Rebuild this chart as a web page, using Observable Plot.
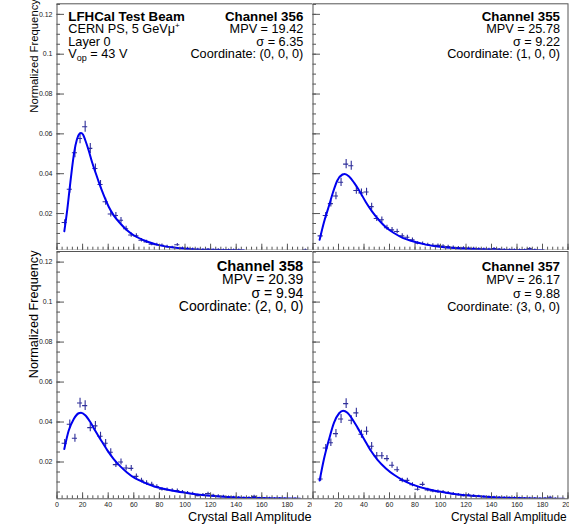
<!DOCTYPE html>
<html><head><meta charset="utf-8">
<script src="https://cdn.jsdelivr.net/npm/d3@7"></script>
<script src="https://cdn.jsdelivr.net/npm/@observablehq/plot@0.6"></script>
<style>
html,body{margin:0;padding:0;background:#fff;}
#wrap{position:relative;width:582px;height:525px;overflow:hidden;background:#fff;}
#wrap > svg{position:absolute;}
</style></head><body><div id="wrap"></div>
<script>
// ---- data ----
const binCenters = [6,10,14,18,22,26,30,34,38,42,46,50,54,58,62,66,70,74,78,82,86,90,94,98,102,106,110,114,118,122,126,130,134,138,142,146,150,154,158,162,166,170,174,178,182,186,190,194,198];

const valsCh356 = [0.0155,0.0322,0.0505,0.0577,0.0636,0.0527,0.0426,0.0346,0.0259,0.0198,0.0190,0.0166,0.0124,0.0092,0.0088,0.0066,0.0058,0.0046,0.0044,0.0040,0.0034,0.0030,0.0043,0.0027,0.0025,0.0022,0.0021,0.0019,0.0020,0.0018,0.0019,0.0017,0.0018,0.0017,0.0017,0,0,0,0,0,0,0,0,0,0,0,0,0.0018,0];
const valsCh355 = [0.0088,0.0190,0.0250,0.0288,0.0357,0.0448,0.0440,0.0316,0.0304,0.0308,0.0235,0.0175,0.0169,0.0129,0.0118,0.0110,0.0088,0.0081,0.0068,0.0051,0.0050,0.0044,0.0041,0.0040,0.0037,0.0034,0.0031,0.0029,0.0028,0.0027,0.0025,0.0023,0.0022,0.0021,0.0024,0.0020,0.0019,0.0018,0.0018,0.0017,0.0018,0.0024,0.0017,0,0,0,0,0,0];
const valsCh358 = [0.0294,0.0389,0.0319,0.0495,0.0482,0.0372,0.0381,0.0329,0.0294,0.0249,0.0187,0.0200,0.0170,0.0168,0.0128,0.0108,0.0095,0.0088,0.0077,0.0064,0.0062,0.0058,0.0057,0.0050,0.0045,0.0042,0.0032,0.0036,0.0042,0.0033,0.0030,0.0028,0.0025,0.0024,0.0022,0.0020,0.0021,0.0028,0.0019,0.0018,0.0019,0.0017,0.0018,0.0017,0,0.0017,0,0,0];
const valsCh357 = [0.0115,0.0270,0.0296,0.0342,0.0415,0.0492,0.0409,0.0446,0.0339,0.0354,0.0279,0.0231,0.0231,0.0217,0.0184,0.0161,0.0108,0.0108,0.0086,0.0064,0.0088,0.0060,0.0055,0.0052,0.0050,0.0045,0.0040,0.0036,0.0032,0.0035,0.0030,0.0028,0.0026,0.0025,0.0023,0.0022,0.0021,0.0020,0.0021,0.0019,0.0018,0.0019,0.0018,0.0017,0.0018,0.0024,0.0017,0,0];

// fitted curves
const fitX356 = [5.7,7.8,9.9,11.7,13.5,15.6,17.7,18.75,20.3,22.1,24.7,27.3,29.9,32.6,36.5,40.4,44.3,49.5,54.7,59.9,67.7,78.1,91.1,104.2,120,146];
const fitY356 = [0.0111,0.0208,0.0326,0.0426,0.0510,0.0573,0.0602,0.0605,0.0597,0.0568,0.0518,0.0460,0.0410,0.0359,0.0292,0.0234,0.0191,0.0150,0.0116,0.0091,0.0066,0.0044,0.0029,0.0021,0.0018,0.0016];
const fitX355 = [5.2,8.6,12.6,15.7,19.1,23.1,24.9,28.3,32.3,36.2,41.5,46.7,52,57.2,63.8,70.3,78.2,88.7,99.2,112.3,125.4,141,160,181];
const fitY355 = [0.0068,0.0156,0.0240,0.0307,0.0366,0.0396,0.0399,0.0386,0.0354,0.0316,0.0257,0.0207,0.0165,0.0131,0.0101,0.0078,0.0061,0.0044,0.0033,0.0026,0.0022,0.0019,0.0017,0.0016];
const fitX358 = [5.7,9.1,13,16.9,18.75,22.1,26,29.9,33.9,39.1,44.3,49.5,54.7,61.2,67.7,75.5,83.3,93.8,104.2,117.2,130.2,140.6,165,190];
const fitY358 = [0.0265,0.0356,0.0414,0.0444,0.0447,0.0434,0.0400,0.0356,0.0314,0.0261,0.0215,0.0178,0.0148,0.0118,0.0099,0.0079,0.0066,0.0052,0.0042,0.0032,0.0026,0.0023,0.0019,0.0016];
const fitX357 = [5.2,8.6,12.6,16.5,20.5,23.6,27,30.9,34.9,40.1,45.4,50.6,57.2,63.8,70.3,78.2,88.7,99.2,112.3,125.4,141.2,165,197];
const fitY357 = [0.0107,0.0215,0.0314,0.0397,0.0444,0.0457,0.0447,0.0414,0.0372,0.0314,0.0256,0.0211,0.0168,0.0135,0.0110,0.0087,0.0066,0.0052,0.0039,0.0031,0.0024,0.0019,0.0016];

const xMajorTicks = [0,20,40,60,80,100,120,140,160,180,200];
const xMinorTicks = d3.range(0, 201, 4);
const yMajorTicks = [0.02,0.04,0.06,0.08,0.1,0.12];
const yMinorTicks = d3.range(1, 26).map(k => k * 0.005);
const xLabelsLeft = [0,20,40,60,80,100,120,140,160,180,200];
const xLabelsRight = [20,40,60,80,100,120,140,160,180,200];

const channels = ["Channel 356","Channel 355","Channel 358","Channel 357"];
const mpvs = ["19.42","25.78","20.39","26.17"];
const sigmas = ["6.35","9.22","9.94","9.88"];
const coords = ["(0, 0, 0)","(1, 0, 0)","(2, 0, 0)","(3, 0, 0)"];

const yDomain = [0.0016, 0.1253];
const xDomain = [0, 200];
const binHalf = 2;
const errScale = 0.00012;

// ---- drawing ----
const wrap = document.getElementById("wrap");
const font = "'Liberation Sans', Arial, Helvetica, sans-serif";
const ptColor = "#2e2e9a";
const axisColor = "#555";

function panel(o) {
  const pts = binCenters.map((x, i) => ({x, y: o.vals[i], e: Math.sqrt(o.vals[i] * errScale)})).filter(d => d.y > 0);
  const fit = o.fitX.map((x, i) => ({x, y: o.fitY[i]}));
  const pw = o.width - o.mL - o.mR, ph = o.height - o.mT - o.mB;
  const marks = [
    Plot.ruleX(pts, {x: "x", y1: d => d.y - d.e, y2: d => d.y + d.e, stroke: ptColor, strokeWidth: 1.1, clip: true}),
    Plot.ruleY(pts, {y: "y", x1: d => d.x - binHalf, x2: d => d.x + binHalf, stroke: ptColor, strokeWidth: 1.1, clip: true}),
    Plot.line(fit, {x: "x", y: "y", stroke: "#0000ee", strokeWidth: 2, curve: "monotone-x", clip: true}),
    Plot.tickY(yMinorTicks.filter(v => v < yDomain[1]), {y: d => d, stroke: axisColor, insetRight: pw - 3.5}),
    Plot.tickY(yMajorTicks, {y: d => d, stroke: axisColor, insetRight: pw - 7.5}),
    Plot.tickX(xMinorTicks, {x: d => d, stroke: axisColor, insetTop: ph - 3}),
    Plot.tickX(xMajorTicks, {x: d => d, stroke: axisColor, insetTop: ph - 6}),
    Plot.frame({stroke: axisColor})
  ];
  if (o.yLabels) marks.push(Plot.axisY(yMajorTicks, {tickSize: 0, tickPadding: 4.5, tickFormat: d3.format("~g"), fontSize: 7, label: null}));
  if (o.xLabels) marks.push(Plot.axisX(o.xLabels, {tickSize: 0, tickPadding: 3.2, fontSize: 7, label: null}));
  const svg = Plot.plot({
    width: o.width, height: o.height,
    marginLeft: o.mL, marginRight: o.mR, marginTop: o.mT, marginBottom: o.mB,
    x: {domain: xDomain, axis: null},
    y: {domain: yDomain, axis: null},
    style: {background: "white", fontFamily: font, fontSize: "7px", color: "#222", overflow: "hidden"},
    marks
  });
  svg.style.position = "absolute";
  svg.style.left = o.left + "px";
  svg.style.top = o.top + "px";
  wrap.append(svg);
}

panel({vals: valsCh356, fitX: fitX356, fitY: fitY356, left: 0, top: 0, width: 313, height: 251, mL: 56.5, mR: 0.5, mT: 3.3, mB: 1.3, yLabels: true});
panel({vals: valsCh355, fitX: fitX355, fitY: fitY355, left: 312, top: 0, width: 257, height: 251, mL: 0.5, mR: 1.5, mT: 3.3, mB: 1.3});
panel({vals: valsCh358, fitX: fitX358, fitY: fitY358, left: 0, top: 250, width: 313, height: 275, mL: 56.5, mR: 0.5, mT: 1, mB: 26.7, yLabels: true, xLabels: xLabelsLeft});
panel({vals: valsCh357, fitX: fitX357, fitY: fitY357, left: 312, top: 250, width: 257, height: 275, mL: 0.5, mR: 1.5, mT: 1, mB: 26.7, xLabels: xLabelsRight});

// ---- overlay texts ----
const ov = d3.select(wrap).append("svg")
  .attr("width", 582).attr("height", 525)
  .style("position", "absolute").style("left", "0px").style("top", "0px")
  .style("pointer-events", "none")
  .attr("font-family", font).attr("fill", "#000");

function txt(x, y, s, size, opts = {}) {
  const t = ov.append("text").attr("x", x).attr("y", y).attr("font-size", size)
    .attr("text-anchor", opts.anchor || "start");
  if (opts.bold) t.attr("font-weight", "bold");
  if (opts.rotate) t.attr("transform", `rotate(-90 ${x} ${y})`);
  t.text(s);
  return t;
}

// axis titles
txt(38, -1, "Normalized Frequency", 11.3, {anchor: "end", rotate: true});
txt(37.5, 250.5, "Normalized Frequency", 12.7, {anchor: "end", rotate: true});
txt(311.5, 521, "Crystal Ball Amplitude", 12.7, {anchor: "end"});
txt(566.7, 520.5, "Crystal Ball Amplitude", 11.9, {anchor: "end"});

// top-left beam info
txt(68.3, 20.5, "LFHCal Test Beam", 13.3, {bold: true});
{
  const t = txt(68.3, 33.2, "CERN PS, 5 GeVμ", 12.7);
  t.append("tspan").attr("dy", -5).attr("font-size", 8).text("+");
}
txt(68.3, 45.5, "Layer 0", 12.7);
{
  const t = txt(68.3, 58, "V", 12.7);
  t.append("tspan").attr("dy", 3).attr("font-size", 9).text("op");
  t.append("tspan").attr("dy", -3).text(" = 43 V");
}

// per-channel info
const infoPos = [
  {x: 303.3, ys: [20.5, 33.2, 45.5, 58], reg: 12.7, bold: 13.3},
  {x: 560, ys: [20.6, 33.2, 45.5, 58], reg: 12.7, bold: 13.3},
  {x: 303.3, ys: [270.5, 284.4, 297.7, 311.2], reg: 14.0, bold: 14.7},
  {x: 560, ys: [270.7, 284.3, 297.8, 311.4], reg: 12.7, bold: 13.3}
];
infoPos.forEach((p, i) => {
  txt(p.x, p.ys[0], channels[i], p.bold, {anchor: "end", bold: true});
  txt(p.x, p.ys[1], "MPV = " + mpvs[i], p.reg, {anchor: "end"});
  txt(p.x, p.ys[2], "σ = " + sigmas[i], p.reg, {anchor: "end"});
  txt(p.x, p.ys[3], "Coordinate: " + coords[i], p.reg, {anchor: "end"});
});
</script>
</body></html>
